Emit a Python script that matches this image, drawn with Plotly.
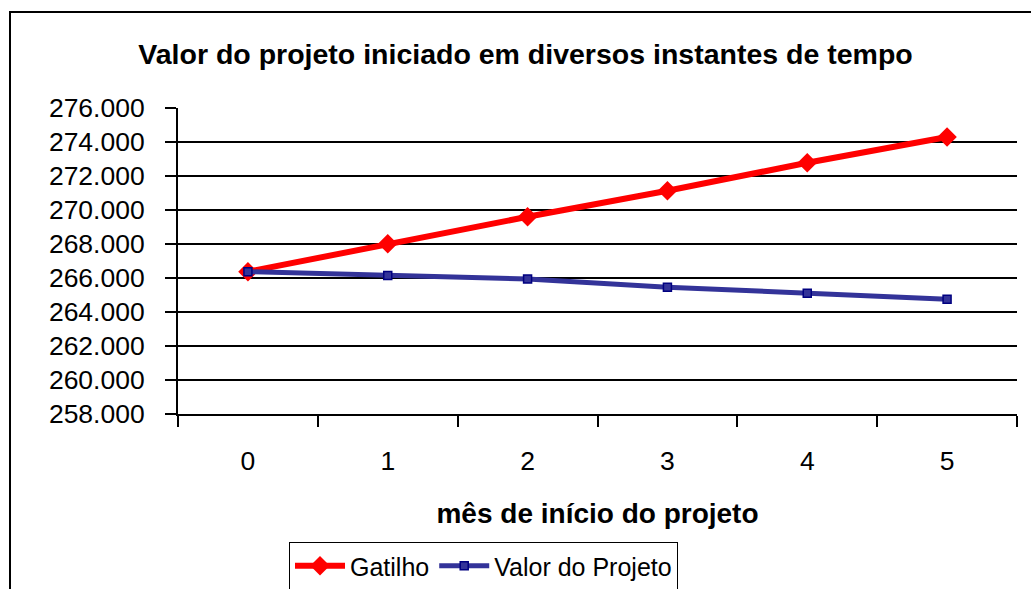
import plotly.graph_objects as go

# Mês de início do projeto e valores (em unidades monetárias)
meses = ["0", "1", "2", "3", "4", "5"]
gatilho = [266370, 268020, 269600, 271130, 272780, 274290]
valor_projeto = [266370, 266140, 265940, 265460, 265110, 264750]

y_ticks = list(range(258000, 276001, 2000))

W, H = 1031, 589
L, R, T, B = 178, 14, 108, 175
plot_w = W - L - R
plot_h = H - T - B


def px_x(px):
    return (px - L) / plot_w


def px_y(py):
    return (H - B - py) / plot_h


fig = go.Figure()

fig.add_trace(go.Scatter(
    x=meses, y=gatilho, name="Gatilho", mode="lines+markers",
    line=dict(color="#FF0000", width=6),
    marker=dict(symbol="diamond", size=15, color="#FF0000"),
))
fig.add_trace(go.Scatter(
    x=meses, y=valor_projeto, name="Valor do Projeto", mode="lines+markers",
    line=dict(color="#333399", width=5),
    marker=dict(symbol="square", size=8, color="#333399",
                line=dict(color="#000080", width=1.5)),
))

font_family = "Liberation Sans, Arial, sans-serif"

fig.update_layout(
    width=W, height=H,
    margin=dict(l=L, r=R, t=T, b=B, pad=0, autoexpand=False),
    paper_bgcolor="white", plot_bgcolor="white",
    separators=",.",
    font=dict(family=font_family, color="black"),
    title=dict(
        text="<b>Valor do projeto iniciado em diversos instantes de tempo</b>",
        font=dict(size=28.5, family=font_family, color="black"),
        xref="container", yref="container",
        x=525.5 / W, y=1 - 54 / H, xanchor="center", yanchor="middle",
    ),
    showlegend=True,
    legend=dict(
        orientation="h",
        x=px_x(289), y=px_y(542), xanchor="left", yanchor="top",
        bordercolor="black", borderwidth=1,
        font=dict(size=25, family=font_family, color="black"),
        bgcolor="white",
        itemwidth=50,
        traceorder="normal",
    ),
    shapes=[
        dict(type="rect", xref="paper", yref="paper",
             x0=px_x(10), x1=px_x(1040), y0=px_y(12), y1=px_y(600),
             line=dict(color="black", width=2), fillcolor="rgba(0,0,0,0)",
             layer="below"),
    ],
)

fig.update_xaxes(
    type="category",
    range=[-0.5, 5.5],
    tickson="boundaries",
    ticks="outside", ticklen=11, tickwidth=2, tickcolor="black",
    showline=True, linecolor="black", linewidth=2,
    showgrid=False, zeroline=False,
    tickfont=dict(size=26.5, family=font_family, color="black"),
    ticklabelstandoff=22,
    title=dict(text="<b>mês de início do projeto</b>",
               font=dict(size=28, family=font_family, color="black"),
               standoff=29),
)

fig.update_yaxes(
    range=[258000, 276000],
    tickvals=y_ticks,
    tickformat=",d",
    ticks="outside", ticklen=11, tickwidth=2, tickcolor="black",
    showline=True, linecolor="black", linewidth=2,
    showgrid=True, gridcolor="black", gridwidth=1.6,
    zeroline=False,
    tickfont=dict(size=26.5, family=font_family, color="black"),
    ticklabelstandoff=15,
)

fig.write_html("out.html")
